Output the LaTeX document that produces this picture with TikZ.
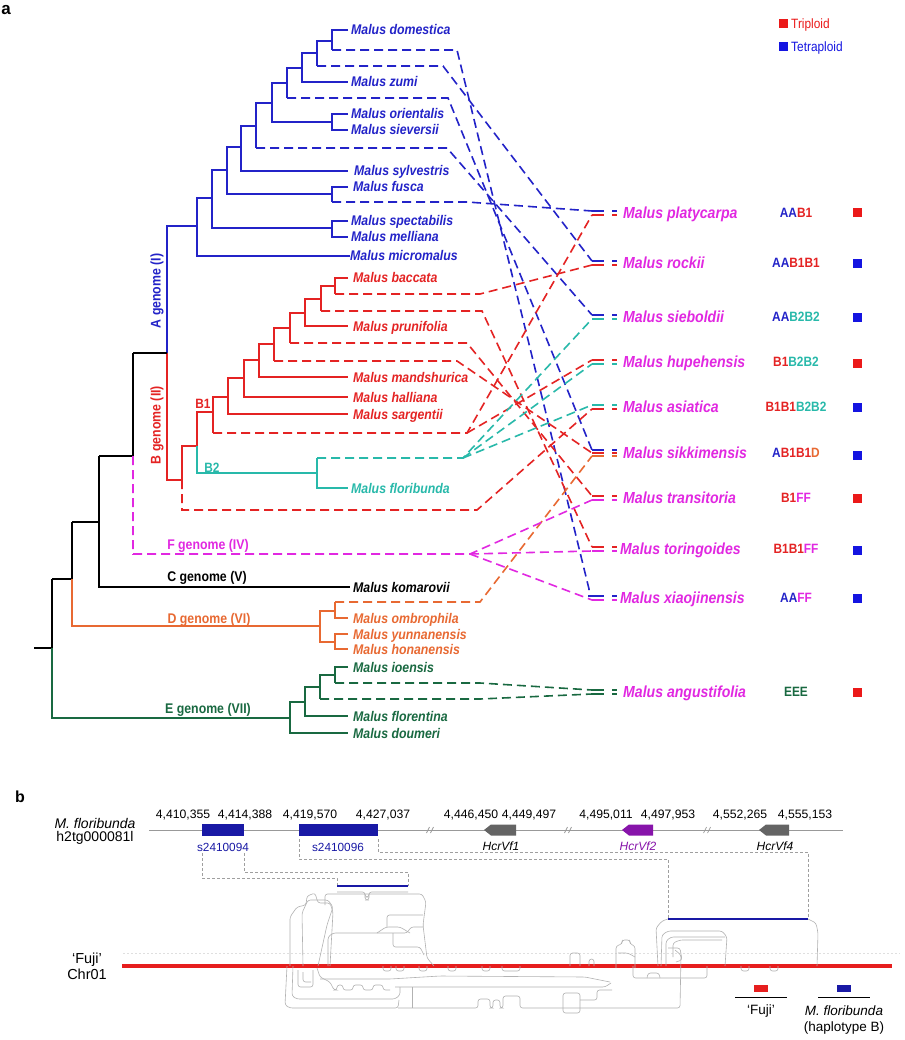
\documentclass[tikz,border=0pt]{standalone}
\usepackage{fontspec}
\setmainfont{Liberation Sans}
\newfontfamily\afont[FakeStretch=0.88]{Liberation Sans}
\usetikzlibrary{calc}
\definecolor{cA}{RGB}{35,35,200}
\definecolor{cB}{RGB}{228,35,35}
\definecolor{cBt}{RGB}{40,185,170}
\definecolor{cF}{RGB}{225,40,225}
\definecolor{cD}{RGB}{232,105,50}
\definecolor{cE}{RGB}{25,105,65}
\definecolor{sqR}{RGB}{235,25,25}
\definecolor{sqB}{RGB}{20,20,225}
\definecolor{bblue}{RGB}{25,25,165}
\definecolor{purp}{RGB}{135,20,170}
\definecolor{ggene}{RGB}{100,100,100}
\definecolor{fred}{RGB}{230,30,30}
\newcommand\tipmark[3]{\draw[line width=1.6pt,#1] ($(#2)+(0,#3)$) -- ++(12,0) ++(8,0) -- ++(5,0);}
\begin{document}
\begin{tikzpicture}[x=1pt,y=-1pt,
  br/.style={line width=1.6pt},
  dsh/.style={line width=1.6pt,dash pattern=on 9pt off 5pt},
  lab/.style={anchor=base west,inner sep=0pt,font=\afont\fontsize{14}{16}\selectfont\bfseries\itshape},
  tgt/.style={anchor=base west,inner sep=0pt,font=\afont\fontsize{16}{18}\selectfont\bfseries\itshape,text=cF},
  gcode/.style={anchor=base,inner sep=0pt,font=\afont\fontsize{13.5}{15}\selectfont\bfseries},
  glab/.style={inner sep=0pt,anchor=base,font=\afont\fontsize{14}{16}\selectfont\bfseries},
  sq/.style={minimum size=9pt,inner sep=0pt,draw=none},
  aln/.style={draw=gray!60,line width=0.6pt,rounded corners=2.5pt},
  gd/.style={draw=gray!75,line width=0.7pt,dash pattern=on 3pt off 2pt},
  num/.style={inner sep=0pt,anchor=base,font=\fontsize{12.2}{14}\selectfont},
  glbl/.style={inner sep=0pt,anchor=base,font=\fontsize{12}{14}\selectfont\itshape},
  leg/.style={anchor=base west,inner sep=0pt,font=\afont\fontsize{13.5}{15}\selectfont},
]
\useasboundingbox (0,0) rectangle (904,1040);
\fill[white] (0,0) rectangle (904,1040);

% panel letters
\node[font=\fontsize{17}{18}\selectfont\bfseries,inner sep=0pt] (pa) at (6,10) {a};
\node[font=\fontsize{16}{18}\selectfont\bfseries,inner sep=0pt] (pb) at (20,797) {b};

% ---------- legend ----------
\node[sq,fill=sqR] (lgR) at (783,24) {};
\node[leg,text=sqR] (lgRt) at (791,28.6) {Triploid};
\node[sq,fill=sqB] (lgB) at (783,47) {};
\node[leg,text=sqB] (lgBt) at (791,51.6) {Tetraploid};

% ---------- tree: A genome ----------
\begin{scope}[br,cA]
\draw (348,30) -- (332,30) -- (332,50);
\draw (332,41) -- (317,41) -- (317,66);
\draw (317,53) -- (302,53) -- (302,82) -- (348,82);
\draw (302,68) -- (287,68) -- (287,98);
\draw (287,83) -- (272,83) -- (272,122) -- (332,122);
\draw (348,114) -- (332,114) -- (332,130) -- (348,130);
\draw (272,103) -- (256,103) -- (256,148);
\draw (256,126) -- (241,126) -- (241,171) -- (348,171);
\draw (241,147) -- (227,147) -- (227,194) -- (332,194);
\draw (348,187) -- (332,187) -- (332,202);
\draw (227,170) -- (212,170) -- (212,228) -- (332,228);
\draw (348,221) -- (332,221) -- (332,237) -- (348,237);
\draw (212,198) -- (197,198) -- (197,256) -- (350,256);
\draw (197,226) -- (167,226) -- (167,353);
\end{scope}
% ---------- tree: B genome ----------
\begin{scope}[br,cB]
\draw (167,353) -- (167,480) -- (182,480);
\draw (197,446) -- (182,446) -- (182,480);
\draw (213,412) -- (197,412) -- (197,446);
\draw (228,397) -- (213,397) -- (213,433);
\draw (244,378) -- (228,378) -- (228,414) -- (348,414);
\draw (259,360) -- (244,360) -- (244,397) -- (348,397);
\draw (274,344) -- (259,344) -- (259,377) -- (348,377);
\draw (290,328) -- (274,328) -- (274,361);
\draw (305,313) -- (290,313) -- (290,343);
\draw (321,299) -- (305,299) -- (305,326) -- (348,326);
\draw (335,286) -- (321,286) -- (321,311);
\draw (348,278) -- (335,278) -- (335,294);
\end{scope}
\begin{scope}[br,cBt]
\draw (197,446) -- (197,473) -- (317,473);
\draw (317,458) -- (317,488) -- (348,488);
\end{scope}
% ---------- backbone ----------
\begin{scope}[br,black]
\draw (133,353) -- (167,353);
\draw (99,456) -- (133,456) -- (133,353);
\draw (72,522) -- (99,522);
\draw (99,456) -- (99,587) -- (350,587);
\draw (52,579) -- (72,579) -- (72,522);
\draw (34,648) -- (52,648) -- (52,579);
\end{scope}
\begin{scope}[br,cD]
\draw (72,579) -- (72,626) -- (320,626);
\draw (335,611) -- (320,611) -- (320,642) -- (335,642);
\draw (348,618) -- (335,618) -- (335,602);
\draw (348,634) -- (335,634) -- (335,649) -- (348,649);
\end{scope}
\begin{scope}[br,cE]
\draw (52,648) -- (52,718) -- (290,718);
\draw (305,702) -- (290,702) -- (290,733) -- (348,733);
\draw (320,687) -- (305,687) -- (305,716) -- (348,716);
\draw (335,675) -- (320,675) -- (320,699);
\draw (348,667) -- (335,667) -- (335,683);
\end{scope}

% ---------- leaf labels ----------
\begin{scope}[every node/.style={lab}]
\node[text=cA] (ldom) at (351,35) {Malus domestica};
\node[text=cA] (lzum) at (351,87) {Malus zumi};
\node[text=cA] (lori) at (351,119) {Malus orientalis};
\node[text=cA] (lsie) at (351,135) {Malus sieversii};
\node[text=cA] (lsyl) at (354,176) {Malus sylvestris};
\node[text=cA] (lfus) at (353,192) {Malus fusca};
\node[text=cA] (lspe) at (351,226) {Malus spectabilis};
\node[text=cA] (lmel) at (351,242) {Malus melliana};
\node[text=cA] (lmic) at (350,261) {Malus micromalus};
\node[text=cB] (lbac) at (353,283) {Malus baccata};
\node[text=cB] (lpru) at (353,331) {Malus prunifolia};
\node[text=cB] (lman) at (353,382) {Malus mandshurica};
\node[text=cB] (lhal) at (353,402) {Malus halliana};
\node[text=cB] (lsar) at (353,419) {Malus sargentii};
\node[text=cBt] (lflo) at (351,493) {Malus floribunda};
\node[text=black] (lkom) at (353,592) {Malus komarovii};
\node[text=cD] (lomb) at (353,623) {Malus ombrophila};
\node[text=cD] (lyun) at (353,639) {Malus yunnanensis};
\node[text=cD] (lhon) at (353,654) {Malus honanensis};
\node[text=cE] (lioe) at (353,672) {Malus ioensis};
\node[text=cE] (lflr) at (353,721) {Malus florentina};
\node[text=cE] (ldou) at (353,738) {Malus doumeri};
\end{scope}

% ---------- clade labels ----------
\node[glab,anchor=center,rotate=90,text=cA] (gA) at (157,291) {A genome (I)};
\node[glab,anchor=center,rotate=90,text=cB] (gB) at (157,425) {B genome (II)};
\node[glab,text=cB,font=\afont\fontsize{13.5}{15}\selectfont\bfseries] (gB1) at (203,408) {B1};
\node[glab,text=cBt,font=\afont\fontsize{13.5}{15}\selectfont\bfseries] (gB2) at (212,472) {B2};
\node[glab,text=cF] (gF) at (208,549) {F genome (IV)};
\node[glab,text=black] (gC) at (207,581) {C genome (V)};
\node[glab,text=cD] (gD) at (209,623) {D genome (VI)};
\node[glab,text=cE] (gE) at (208,713) {E genome (VII)};

% ---------- target species ----------
\coordinate (Tplat) at (592,213);
\coordinate (Trock) at (592,263);
\coordinate (Tsieb) at (592,317);
\coordinate (Thupe) at (592,362);
\coordinate (Tasia) at (592,407);
\coordinate (Tsikk) at (592,453);
\coordinate (Ttran) at (592,498);
\coordinate (Ttori) at (592,549);
\coordinate (Txiao) at (592,598);
\coordinate (Tangu) at (592,692);

\node[tgt] (nplat) at (623,218.8) {Malus platycarpa};
\node[tgt] (nrock) at (623,268.8) {Malus rockii};
\node[tgt] (nsieb) at (623,322.8) {Malus sieboldii};
\node[tgt] (nhupe) at (623,367.8) {Malus hupehensis};
\node[tgt] (nasia) at (623,412.8) {Malus asiatica};
\node[tgt] (nsikk) at (623,458.8) {Malus sikkimensis};
\node[tgt] (ntran) at (623,503.8) {Malus transitoria};
\node[tgt] (ntori) at (620,554.8) {Malus toringoides};
\node[tgt] (nxiao) at (620,603.8) {Malus xiaojinensis};
\node[tgt] (nangu) at (623,697.8) {Malus angustifolia};

\node[gcode] (cplat) at (796,217.8) {\textcolor{cA}{AA}\textcolor{cB}{B1}};
\node[gcode] (crock) at (796,267.8) {\textcolor{cA}{AA}\textcolor{cB}{B1B1}};
\node[gcode] (csieb) at (796,321.8) {\textcolor{cA}{AA}\textcolor{cBt}{B2B2}};
\node[gcode] (chupe) at (796,366.8) {\textcolor{cB}{B1}\textcolor{cBt}{B2B2}};
\node[gcode] (casia) at (796,411.8) {\textcolor{cB}{B1B1}\textcolor{cBt}{B2B2}};
\node[gcode] (csikk) at (796,457.8) {\textcolor{cA}{A}\textcolor{cB}{B1B1}\textcolor{cD}{D}};
\node[gcode] (ctran) at (796,502.8) {\textcolor{cB}{B1}\textcolor{cF}{FF}};
\node[gcode] (ctori) at (796,553.8) {\textcolor{cB}{B1B1}\textcolor{cF}{FF}};
\node[gcode] (cxiao) at (796,602.8) {\textcolor{cA}{AA}\textcolor{cF}{FF}};
\node[gcode] (cangu) at (796,696.8) {\textcolor{cE}{EEE}};

\node[sq,fill=sqR] (pplat) at (857,213) {};
\node[sq,fill=sqB] (prock) at (857,264) {};
\node[sq,fill=sqB] (psieb) at (857,317) {};
\node[sq,fill=sqR] (phupe) at (857,363) {};
\node[sq,fill=sqB] (pasia) at (857,407) {};
\node[sq,fill=sqB] (psikk) at (857,455) {};
\node[sq,fill=sqR] (ptran) at (857,498) {};
\node[sq,fill=sqB] (ptori) at (857,550) {};
\node[sq,fill=sqB] (pxiao) at (857,598) {};
\node[sq,fill=sqR] (pangu) at (857,692) {};

% ---------- source points of dashed lineages ----------
\coordinate (sA1) at (332,50);  \coordinate (kA1) at (457,50);
\coordinate (sA2) at (317,66);  \coordinate (kA2) at (443,66);
\coordinate (sA3) at (287,98);  \coordinate (kA3) at (448,98);
\coordinate (sA4) at (256,148); \coordinate (kA4) at (447,148);
\coordinate (sA5) at (332,202); \coordinate (kA5) at (467,202);
\coordinate (sB1) at (335,294); \coordinate (kB1) at (480,294);
\coordinate (sB2) at (321,311); \coordinate (kB2) at (482,311);
\coordinate (sB3) at (290,343); \coordinate (kB3) at (467,343);
\coordinate (sB4) at (274,361); \coordinate (kB4) at (457,361);
\coordinate (sB5) at (213,433); \coordinate (kB5) at (467,433);
\coordinate (sB6) at (182,480); \coordinate (kB6) at (477,510);
\coordinate (sT)  at (317,458); \coordinate (kT)  at (463,458);
\coordinate (sD)  at (335,602); \coordinate (kD)  at (480,602);
\coordinate (sF)  at (133,456); \coordinate (kF)  at (470,554);
\coordinate (sE1) at (335,683); \coordinate (kE1) at (480,683);
\coordinate (sE2) at (320,699); \coordinate (kE2) at (480,699);

% blue
\draw[dsh,cA] (sA1) -- (kA1) -- (589,589) -- ($(Txiao)+(-3,-2)$) -- ($(Txiao)+(0,-2)$);
\draw[dsh,cA] (sA2) -- (kA2) -- ($(Trock)+(0,-2)$);
\draw[dsh,cA] (sA3) -- (kA3) -- ($(Tsikk)+(0,-3)$);
\draw[dsh,cA] (sA4) -- (kA4) -- ($(Tsieb)+(0,-2)$);
\draw[dsh,cA] (sA5) -- (kA5) -- ($(Tplat)+(0,-2)$);
% red
\draw[dsh,cB] (sB1) -- (kB1) -- ($(Trock)+(0,2)$);
\draw[dsh,cB] (sB2) -- (kB2) -- ($(Ttori)+(0,-2)$);
\draw[dsh,cB] (sB3) -- (kB3) -- ($(Ttran)+(0,-2)$);
\draw[dsh,cB] (sB4) -- (kB4) -- ($(Tsikk)+(0,0)$);
\draw[dsh,cB] (sB5) -- (kB5) -- ($(Tplat)+(0,2)$);
\draw[dsh,cB] (kB5) -- ($(Thupe)+(0,-2)$);
\draw[dsh,cB] (sB6) -- (182,510) -- (kB6) -- ($(Tasia)+(0,2)$);
% teal
\draw[dsh,cBt] (sT) -- (kT) -- ($(Tsieb)+(0,2)$);
\draw[dsh,cBt] (kT) -- ($(Thupe)+(0,2)$);
\draw[dsh,cBt] (kT) -- ($(Tasia)+(0,-2)$);
% orange
\draw[dsh,cD] (sD) -- (kD) -- ($(Tsikk)+(0,3)$);
% magenta
\draw[dsh,cF] (sF) -- (133,554) -- (kF) -- ($(Ttran)+(0,2)$);
\draw[dsh,cF] (kF) -- ($(Ttori)+(0,2)$);
\draw[dsh,cF] (kF) -- ($(Txiao)+(0,2)$);
% green
\draw[dsh,cE] (sE1) -- (kE1) -- ($(Tangu)+(0,-2)$);
\draw[dsh,cE] (sE2) -- (kE2) -- ($(Tangu)+(0,2)$);

% end ticks
\tipmark{cA}{Tplat}{-2} \tipmark{cB}{Tplat}{2}
\tipmark{cA}{Trock}{-2} \tipmark{cB}{Trock}{2}
\tipmark{cA}{Tsieb}{-2} \tipmark{cBt}{Tsieb}{2}
\tipmark{cB}{Thupe}{-2} \tipmark{cBt}{Thupe}{2}
\tipmark{cBt}{Tasia}{-2} \tipmark{cB}{Tasia}{2}
\tipmark{cA}{Tsikk}{-3} \tipmark{cB}{Tsikk}{0} \tipmark{cD}{Tsikk}{3}
\tipmark{cB}{Ttran}{-2} \tipmark{cF}{Ttran}{2}
\tipmark{cB}{Ttori}{-2} \tipmark{cF}{Ttori}{2}
\tipmark{cA}{Txiao}{-2} \tipmark{cF}{Txiao}{2}
\tipmark{cE}{Tangu}{-2} \tipmark{cE}{Tangu}{2}

% ================= panel b =================
\node[inner sep=0pt,anchor=base,font=\fontsize{14}{16}\selectfont\itshape] (mfl) at (95,828) {M. floribunda};
\node[inner sep=0pt,anchor=base,font=\fontsize{14}{16}\selectfont] (h2tg) at (95,841) {h2tg000081l};
\draw[gray!80,line width=0.9pt] (149,830) coordinate (ctgL) -- (843,830) coordinate (ctgR);
\foreach \bx in {430,568,707}{
  \draw[gray!80,line width=0.7pt] (\bx-3.5,833) -- (\bx-0.5,827) (\bx+0.5,833) -- (\bx+3.5,827);
}
% gene boxes
\fill[bblue] (202,824) rectangle (244,836);
\fill[bblue] (299,824) rectangle (378,836);
\fill[ggene] (484,830) -- (491,824.5) -- (516,824.5) -- (516,835.5) -- (491,835.5) -- cycle;
\fill[purp] (622,830) -- (629,824.5) -- (653,824.5) -- (653,835.5) -- (629,835.5) -- cycle;
\fill[ggene] (759,830) -- (766,824.5) -- (789,824.5) -- (789,835.5) -- (766,835.5) -- cycle;
% coordinates
\node[num] (n1) at (183,818) {4,410,355};
\node[num] (n2) at (245,818) {4,414,388};
\node[num] (n3) at (310,818) {4,419,570};
\node[num] (n4) at (383,818) {4,427,037};
\node[num] (n5) at (471,818) {4,446,450};
\node[num] (n6) at (529,818) {4,449,497};
\node[num] (n7) at (606,818) {4,495,011};
\node[num] (n8) at (668,818) {4,497,953};
\node[num] (n9) at (740,818) {4,552,265};
\node[num] (n10) at (805,818) {4,555,153};
% gene labels
\node[inner sep=0pt,anchor=base,font=\fontsize{11.8}{13}\selectfont,text=bblue] (g94) at (223,851) {s2410094};
\node[inner sep=0pt,anchor=base,font=\fontsize{11.8}{13}\selectfont,text=bblue] (g96) at (338,851) {s2410096};
\node[glbl] (gv1) at (501,850) {HcrVf1};
\node[glbl,text=purp] (gv2) at (638,850) {HcrVf2};
\node[glbl] (gv4) at (775,850) {HcrVf4};
% dashed mapping lines
\coordinate (bar1L) at (337,886); \coordinate (bar1R) at (408,886);
\coordinate (bar2L) at (668,919); \coordinate (bar2R) at (808,919);
\draw[gd] (202,853) -- (202,878) -- (337,878) -- (bar1L);
\draw[gd] (244,853) -- (244,872) -- (408,872) -- (bar1R);
\draw[gd] (299,839) -- (299,859) -- (668,859) -- (bar2L);
\draw[gd] (378,839) -- (378,852) -- (808,852) -- (bar2R);

% faint reference line
\draw[gray!25,line width=0.5pt,dash pattern=on 2pt off 2pt] (123,953) -- (900,953);

% red Fuji chromosome
\draw[fred,line width=3.6pt] (122,966) coordinate (chrL) -- (892,966) coordinate (chrR);
\node[inner sep=0pt,anchor=base,font=\fontsize{14.5}{16}\selectfont] (fuji) at (87,963) {‘Fuji’};
\node[inner sep=0pt,anchor=base,font=\fontsize{14.5}{16}\selectfont] (chr) at (87,979) {Chr01};

% alignment paths (grey)
\begin{scope}[aln]
\draw (337,892) -- (365,892) -- (365,897) -- (369,897) -- (369,892) -- (408,892);
\draw (290,966) -- (290,917) -- (297,907) -- (306,905) -- (307,896) -- (315,893) -- (318,903) -- (330,903) -- (333,912) -- (330,966);
\draw (303,966) -- (302,913) -- (308,900) -- (328,900) -- (333,907) -- (327,925) -- (318,966);
\draw (325,905) -- (325,894) -- (422,894) -- (426,902) -- (423,925) -- (427,958) -- (434,966);
\draw (365,894) -- (365,900) -- (369,900) -- (369,894);
\draw (328,966) -- (328,937) -- (333,933) -- (407,933) -- (411,927) -- (423,927);
\draw (377,933) -- (386,927) -- (400,927) -- (410,933);
\draw (387,927) -- (387,915) -- (423,915);
\draw (393,933) -- (393,947) -- (420,947) -- (424,955);
\draw (287,966) -- (285,1005) -- (290,1008) -- (398,1008) -- (399,1000);
\draw (293,966) -- (292,996) -- (297,999) -- (395,999) -- (400,995) -- (400,987);
\draw (298,970) -- (298,987) -- (313,987) -- (313,970);
\draw (303,972) -- (303,982) -- (311,982);
\draw (317,968) -- (320,977) -- (330,982) -- (334,990) -- (337,990) -- (337,985) -- (343,985) -- (343,990) -- (353,990) -- (353,985) -- (363,985) -- (363,990) -- (373,990) -- (373,985) -- (383,985) -- (383,990) -- (390,990);
\draw (320,979) -- (390,979) -- (440,976) -- (585,977) -- (610,982);
\draw (395,987) -- (605,987) -- (611,983);
\draw (412,987) -- (412,1008);
\draw (398,1008) -- (478,1008) -- (478,999) -- (490,999) -- (490,1008) -- (493,1008) -- (493,1000) -- (500,1000) -- (500,1008) -- (503,1008) -- (503,996) -- (520,996) -- (520,1008) -- (680,1008) -- (681,955) -- (675,950);
\draw (563,993) -- (580,993) -- (580,1013) -- (563,1013) -- cycle;
\draw (580,1000) -- (597,1000) -- (597,990) -- (612,990);
\draw (658,966) -- (656,928) -- (662,921) -- (bar2L);
\draw (bar2R) -- (816,923) -- (818,933) -- (817,966);
\draw (661,966) -- (662,935) -- (668,931) -- (722,931) -- (727,937) -- (725,966);
\draw (666,966) -- (666,941) -- (671,937) -- (725,937);
\draw (673,957) -- (673,943) -- (680,940) -- (722,940);
\draw (668,948) -- (680,948) -- (682,960) -- (676,962);
\draw (616,968) -- (616,946) -- (622,944) -- (622,940) -- (630,940) -- (630,944) -- (635,946) -- (635,968);
\draw (618,953) -- (628,953) -- (635,957);
\draw (570,966) -- (570,953) -- (580,953) -- (580,966);
\draw (589,966) -- (589,959) -- (594,959) -- (594,966);
\draw (633,966) -- (633,978) -- (707,978) -- (707,966);
\draw (647,978) -- (648,973) -- (659,973) -- (660,978);
\foreach \ux in {387,400,423,452,486,745,774}{
  \draw (\ux-4,966) -- (\ux-4,971) -- (\ux+4,971) -- (\ux+4,966);
}
\draw (502,966) -- (502,971) -- (520,971) -- (520,966);
\end{scope}
% mapped blue bars
\draw[bblue,line width=2.8pt] (bar1L) -- (bar1R);
\draw[bblue,line width=2.8pt] (bar2L) -- (bar2R);

% legend panel b
\node[fill=fred,minimum width=14pt,minimum height=7pt,inner sep=0pt] (lfuji) at (761,988) {};
\draw[black,line width=1pt] (735,997) -- (787,997);
\node[inner sep=0pt,anchor=base,font=\fontsize{13.5}{15}\selectfont] (tfuji) at (761,1014) {‘Fuji’};
\node[fill=bblue,minimum width=14pt,minimum height=7pt,inner sep=0pt] (lmf) at (844,988) {};
\draw[black,line width=1pt] (818,997) -- (870,997);
\node[inner sep=0pt,anchor=base,font=\fontsize{13.5}{15}\selectfont\itshape] (tmf) at (844,1015) {M. floribunda};
\node[inner sep=0pt,anchor=base,font=\fontsize{13.5}{15}\selectfont] (thap) at (844,1031) {(haplotype B)};
\end{tikzpicture}
\end{document}
